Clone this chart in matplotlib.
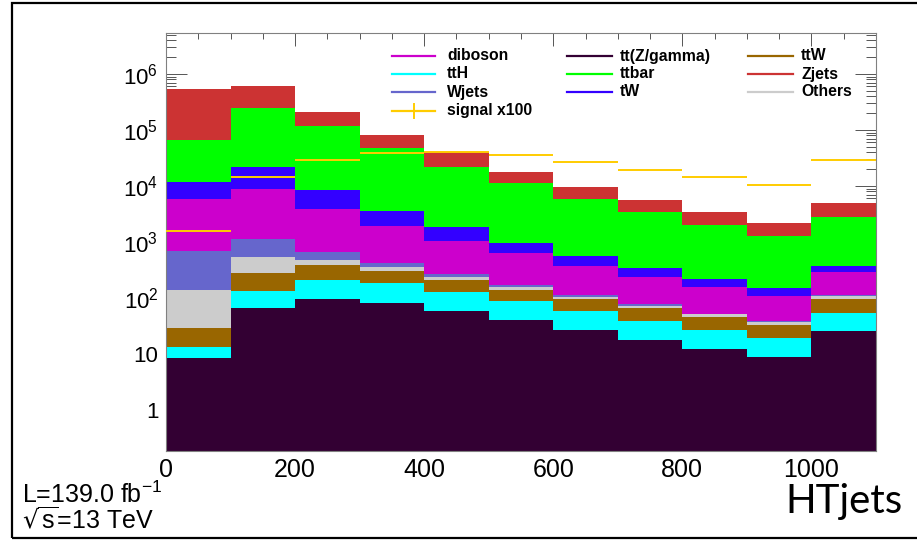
import numpy as np
import matplotlib
matplotlib.use("Agg")
import matplotlib.pyplot as plt
from matplotlib.lines import Line2D
from matplotlib.patches import Rectangle
from matplotlib.ticker import FixedLocator, FixedFormatter, LogLocator, NullFormatter, MultipleLocator

plt.rcParams["font.family"] = ["Liberation Sans", "DejaVu Sans"]

# HTjets binning (GeV)
bin_edges = np.arange(0, 1101, 100)

# Expected events per bin, per sample
ttZgamma = [8.4, 67, 95, 82, 59, 40, 27, 18, 12.4, 9.0, 25.7]
ttH = [5.1, 66, 112, 101, 71, 48, 32, 21, 14.4, 10.5, 29]
ttW = [16, 150, 181, 124, 80, 51, 37, 26, 19, 14, 40]
others = [110, 250, 95, 51, 30, 16, 10, 7, 5, 4.3, 15]
wjets = [561, 597, 180, 59, 28, 16, 7, 5, 1.5, 1.1, 3]
diboson = [5180, 7710, 3217, 1543, 772, 457, 264, 163, 104, 71, 182]
tW = [6120, 12960, 4610, 1660, 790, 347, 192, 108, 61, 39, 78]
ttbar = [55000, 225200, 110500, 44680, 20270, 10225, 5361, 3132, 1792, 1148, 2457]
zjets = [483000, 373000, 93000, 34100, 18900, 6400, 3790, 2070, 1425, 853, 2200]
signal_x100 = [1570, 14300, 29500, 39300, 40500, 35300, 26800, 19500, 14700, 10400, 29100]

x_tick_values = [0, 200, 400, 600, 800, 1000]
y_tick_values = [1, 10, 1e2, 1e3, 1e4, 1e5, 1e6]
y_tick_labels = ["1", "10", r"$\mathregular{10^{2}}$", r"$\mathregular{10^{3}}$",
                 r"$\mathregular{10^{4}}$", r"$\mathregular{10^{5}}$", r"$\mathregular{10^{6}}$"]

colors = {
    "diboson": "#cc00cc", "ttH": "#00ffff", "Wjets": "#6666cc",
    "tt(Z/gamma)": "#330033", "ttbar": "#00ff00", "tW": "#3300ff",
    "ttW": "#996600", "Zjets": "#cc3333", "Others": "#cccccc",
    "signal x100": "#ffcc00",
}

# bottom-to-top stacking order
stack = [
    ("tt(Z/gamma)", ttZgamma), ("ttH", ttH), ("ttW", ttW), ("Others", others),
    ("Wjets", wjets), ("diboson", diboson), ("tW", tW), ("ttbar", ttbar),
    ("Zjets", zjets),
]

W, H = 917, 540
fig = plt.figure(figsize=(W / 100, H / 100), dpi=100)


def fx(px):
    return px / W


def fy(py):
    return 1 - py / H


ax = fig.add_axes([fx(166), fy(451), fx(876) - fx(166), fy(33) - fy(451)])
ax.set_yscale("log")

bottom = np.zeros(len(bin_edges) - 1)
for name, vals in stack:
    vals = np.asarray(vals, dtype=float)
    ax.bar(bin_edges[:-1], vals, width=np.diff(bin_edges), bottom=bottom, align="edge",
           color=colors[name], linewidth=0, zorder=3)
    bottom = bottom + vals

centers = 0.5 * (bin_edges[:-1] + bin_edges[1:])
half_width = 0.5 * np.diff(bin_edges)
ax.errorbar(centers, signal_x100, xerr=half_width, fmt="none",
            ecolor=colors["signal x100"], elinewidth=1.4, zorder=6)

ax.set_xlim(bin_edges[0], bin_edges[-1])
ax.set_ylim(0.185, 5.4e6)

ax.xaxis.set_major_locator(FixedLocator(x_tick_values))
ax.xaxis.set_minor_locator(MultipleLocator(50))
ax.yaxis.set_major_locator(FixedLocator(y_tick_values))
ax.yaxis.set_major_formatter(FixedFormatter(y_tick_labels))
ax.yaxis.set_minor_locator(LogLocator(base=10, subs=np.arange(2, 10)))
ax.yaxis.set_minor_formatter(NullFormatter())

tick_col = "#555555"
ax.tick_params(axis="x", which="major", direction="in", length=9, width=0.7, color=tick_col,
               top=True, bottom=True, labelsize=18, pad=5)
ax.tick_params(axis="x", which="minor", direction="in", length=4.5, width=0.7, color=tick_col,
               top=True, bottom=True)
ax.tick_params(axis="y", which="major", direction="in", length=15, width=0.7, color=tick_col,
               left=True, right=True, labelsize=16, pad=5.5)
ax.tick_params(axis="y", which="minor", direction="in", length=7.5, width=0.7, color=tick_col,
               left=True, right=True)

for s in ax.spines.values():
    s.set_color("#808080")
    s.set_linewidth(0.8)
    s.set_zorder(5)

# legend, three columns filled top to bottom
legend_entries = ["diboson", "ttH", "Wjets", "signal x100",
                  "tt(Z/gamma)", "ttbar", "tW",
                  "ttW", "Zjets", "Others"]
legend_columns = [(392, 435, 447), (567, 612, 620), (748, 793, 801)]
legend_rows = [56, 74, 92, 111]
per_column = [4, 3, 3]
k = 0
for (x0, x1, xt), n in zip(legend_columns, per_column):
    for r in range(n):
        label = legend_entries[k]
        y = legend_rows[r]
        c = colors[label]
        fig.add_artist(Line2D([fx(x0), fx(x1)], [fy(y), fy(y)], transform=fig.transFigure,
                              color=c, lw=1.6))
        if label.startswith("signal"):
            xm = 0.5 * (x0 + x1)
            fig.add_artist(Line2D([fx(xm), fx(xm)], [fy(y - 7), fy(y + 7)],
                                  transform=fig.transFigure, color=c, lw=1.4))
        fig.text(fx(xt), fy(y), label, fontsize=11.3, fontweight="bold", va="center", ha="left")
        k += 1

fig.text(fx(22), fy(503), r"L=139.0 fb$^{\mathregular{-1}}$", fontsize=18, va="baseline")
fig.text(fx(22), fy(528), r"$\sqrt{\mathregular{s}}$=13 TeV", fontsize=18, va="baseline")
fig.text(fx(785), fy(513), "HTjets", fontsize=29, family="Lato", va="baseline")

fig.add_artist(Rectangle((fx(12), fy(538)), 1.0, fy(3) - fy(538), transform=fig.transFigure,
                         fill=False, edgecolor="black", linewidth=1.6))

fig.savefig("out.png", dpi=100)
